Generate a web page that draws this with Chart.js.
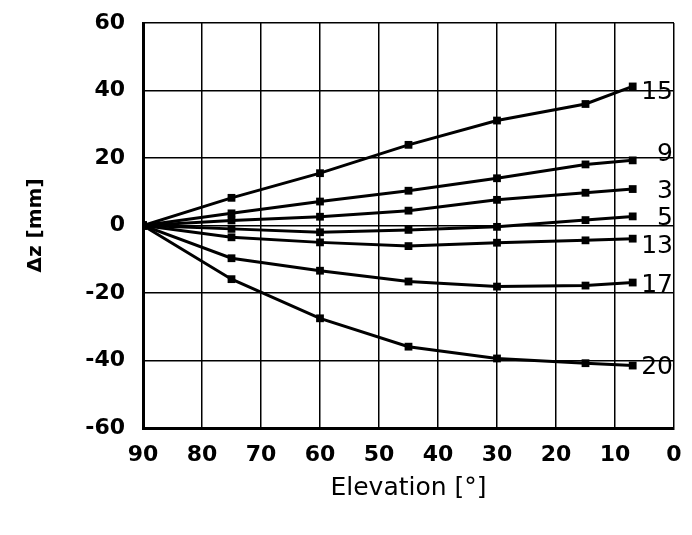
<!DOCTYPE html>
<html>
<head>
<meta charset="utf-8">
<script src="https://cdn.jsdelivr.net/npm/chart.js@4/dist/chart.umd.min.js"></script>
<style>
  html, body { margin: 0; padding: 0; background: #fff; }
  #wrap { width: 692px; height: 535px; }
</style>
</head>
<body>
<div id="wrap"><canvas id="deltaChart"></canvas></div>
<script>
// elevation angles (deg) where dz was measured
const elevations = [90, 75, 60, 45, 30, 15, 7];

// dz (mm) per curve, curve name is the label drawn at the right end
const curveNames = ["15", "9", "3", "5", "13", "17", "20"];
const dz15 = [0, 8.2, 15.5, 23.9, 31.1, 36.0, 41.2];
const dz9  = [0, 3.6, 7.1, 10.3, 14.0, 18.1, 19.3];
const dz3  = [0, 1.5, 2.6, 4.4, 7.6, 9.7, 10.8];
const dz5  = [0, -1.0, -2.0, -1.3, -0.4, 1.6, 2.7];
const dz13 = [0, -3.5, -5.0, -6.1, -5.1, -4.4, -3.9];
const dz17 = [0, -9.7, -13.4, -16.6, -18.1, -17.8, -16.9];
const dz20 = [0, -15.9, -27.5, -35.9, -39.4, -40.8, -41.5];

// y ticks and x ticks
const yTicks = [-60, -40, -20, 0, 20, 40, 60];
const xTicks = [0, 10, 20, 30, 40, 50, 60, 70, 80, 90];

const curves = [dz15, dz9, dz3, dz5, dz13, dz17, dz20];

const fontFamily = '"DejaVu Sans", "Liberation Sans", Arial, sans-serif';

// Curve-end labels
const endLabels = {
    id: 'endLabels',
    afterDatasetsDraw(chart) {
        const ctx = chart.ctx;
        const nudge = [6, -6, 2, 2, 8, 3, 2];
        ctx.save();
        ctx.fillStyle = '#000';
        ctx.font = '25px ' + fontFamily;
        ctx.textAlign = 'right';
        ctx.textBaseline = 'middle';
        chart.data.datasets.forEach((ds, i) => {
            const pts = chart.getDatasetMeta(i).data;
            const last = pts[pts.length - 1];
            ctx.fillText(ds.label, chart.chartArea.right - 1, last.y + nudge[i]);
        });
        ctx.restore();
    }
};

const datasets = curves.map((vals, i) => ({
    label: curveNames[i],
    data: vals.map((v, j) => ({ x: elevations[j], y: v })),
    borderColor: '#000',
    backgroundColor: '#000',
    borderWidth: 3,
    pointStyle: 'rect',
    pointRadius: 5.5,
    pointBorderWidth: 0,
    tension: 0
}));

new Chart(document.getElementById('deltaChart'), {
    type: 'line',
    data: { datasets: datasets },
    options: {
        responsive: true,
        maintainAspectRatio: false,
        animation: false,
        layout: { padding: { top: 23, right: 18, left: 20, bottom: 28 } },
        plugins: {
            legend: { display: false },
            tooltip: { enabled: false }
        },
        scales: {
            x: {
                type: 'linear',
                reverse: true,
                min: 0,
                max: 90,
                afterBuildTicks: (scale) => { scale.ticks = xTicks.map(v => ({ value: v })); },
                afterFit: (scale) => { scale.height = 535 - 428 - 28; },
                grid: { color: '#000', lineWidth: 1.5, drawTicks: false },
                border: { color: '#000', width: 3 },
                ticks: {
                    color: '#000',
                    padding: 14,
                    maxRotation: 0,
                    font: { family: fontFamily, size: 22, weight: 'bold' }
                },
                title: {
                    display: true,
                    text: 'Elevation [°]',
                    color: '#000',
                    padding: { top: 8 },
                    font: { family: fontFamily, size: 25 }
                }
            },
            y: {
                type: 'linear',
                min: -60,
                max: 60,
                afterBuildTicks: (scale) => { scale.ticks = yTicks.map(v => ({ value: v })); },
                afterFit: (scale) => {
                    scale.width = 143 - 20;
                    scale.paddingTop = 10;
                    scale.paddingBottom = 10;
                },
                grid: { color: '#000', lineWidth: 1.5, drawTicks: false },
                border: { color: '#000', width: 3 },
                ticks: {
                    color: '#000',
                    padding: 18,
                    font: { family: fontFamily, size: 22, weight: 'bold' }
                },
                title: {
                    display: true,
                    text: 'Δz [mm]',
                    color: '#000',
                    padding: { bottom: 4 },
                    font: { family: fontFamily, size: 20, weight: 'bold' }
                }
            }
        }
    },
    plugins: [endLabels]
});
</script>
</body>
</html>
